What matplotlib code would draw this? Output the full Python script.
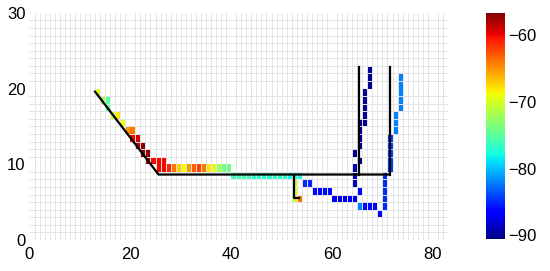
import numpy as np
import matplotlib.pyplot as plt

plt.rcParams['font.family'] = ['Liberation Sans', 'DejaVu Sans']

# measured cells: column, row, received signal strength (dBm)
cell_col = [13, 14, 15, 15, 16, 17, 18, 19, 20, 20, 21, 21, 22, 22, 23, 23, 24, 25, 26,
            25, 26, 27, 28, 29, 30, 31, 32, 33, 34, 35, 36, 37, 38, 39,
            40, 41, 42, 43, 44, 45, 46, 47, 48, 49, 50, 51, 52, 53,
            52, 52, 52, 53,
            54, 55, 56, 57, 58, 59, 60, 61, 62, 63, 64,
            65, 66, 67, 68, 69,
            70, 70, 70, 70, 70, 71, 71, 71, 71, 71, 72, 72, 72,
            73, 73, 73, 73, 73,
            64, 64, 64, 65, 65, 64, 65, 65, 65, 65,
            66, 66, 66, 66, 66, 67, 67, 67]
cell_row = [19, 18, 18, 17, 16, 16, 15, 14, 14, 13, 13, 12, 12, 11, 11, 10, 10, 10, 10,
            9, 9, 9, 9, 9, 9, 9, 9, 9, 9, 9, 9, 9, 9, 9,
            8, 8, 8, 8, 8, 8, 8, 8, 8, 8, 8, 8, 8, 8,
            7, 6, 5, 5,
            7, 7, 6, 6, 6, 6, 5, 5, 5, 5, 5,
            4, 4, 4, 4, 3,
            4, 5, 6, 7, 8, 9, 10, 11, 12, 13, 14, 15, 16,
            17, 18, 19, 20, 21,
            7, 8, 9, 6, 10, 11, 12, 13, 14, 15,
            15, 16, 17, 18, 19, 20, 21, 22]
cell_rss = [-70, -72, -75, -75, -70, -68, -69, -65, -64, -60, -59, -58, -57, -57, -57, -57, -60, -60, -60,
            -60, -60, -61, -64, -67, -69, -65, -63, -62, -64, -68, -70, -72, -74, -74,
            -76, -76, -76, -76, -77, -77, -77, -77, -77, -77, -77, -78, -77, -77,
            -70, -70, -70, -64,
            -85, -85, -86, -86, -86, -86, -87, -87, -87, -87, -87,
            -82, -86, -86, -86, -86,
            -85, -85, -85, -85, -85, -84, -84, -84, -84, -84, -82, -82, -82,
            -82, -82, -82, -82, -82,
            -89, -89, -89, -87, -90, -90, -90, -90, -90, -90,
            -90, -90, -90, -90, -90, -90, -90, -90]

# walked path (black lines)
main_x = [13.0, 25.6, 71.45]
main_y = [19.6, 8.65, 8.65]
left_x = [65.45, 65.45]
left_y = [8.65, 22.8]
right_x = [71.45, 71.45]
right_y = [8.65, 22.8]
branch_x = [52.5, 52.5, 53.4]
branch_y = [8.65, 5.6, 5.6]

n_cols, n_rows = 83, 30
vmin, vmax = -90.6, -56.6

grid = np.full((n_rows, n_cols), np.nan)
grid[cell_row, cell_col] = cell_rss
grid = np.ma.masked_invalid(grid)

fig = plt.figure(figsize=(5.5, 2.71), dpi=100)
ax = fig.add_axes([0.0536, 0.1144, 0.7609, 0.838])

mesh = ax.pcolormesh(np.arange(n_cols + 1), np.arange(n_rows + 1), grid,
                     cmap='jet', vmin=vmin, vmax=vmax, zorder=1)

for xs, ys in [(main_x, main_y), (left_x, left_y), (right_x, right_y), (branch_x, branch_y)]:
    ax.plot(xs, ys, color='black', linewidth=1.6, zorder=3)

ax.set_xlim(0, n_cols)
ax.set_ylim(0, n_rows)
ax.set_xticks([0, 20, 40, 60, 80])
ax.set_yticks([0, 10, 20, 30])
ax.set_xticks(np.arange(0, n_cols + 1), minor=True)
ax.set_yticks(np.arange(0, n_rows + 1), minor=True)
ax.grid(which='minor', color='#e4e4e4', linewidth=0.7, zorder=2)
ax.set_axisbelow(False)
ax.tick_params(which='both', length=0, labelsize=12)
ax.tick_params(axis='x', pad=5)
ax.tick_params(axis='y', pad=3)
for s in ax.spines.values():
    s.set_visible(False)

cax = fig.add_axes([0.8836, 0.117, 0.0345, 0.836])
cb = fig.colorbar(mesh, cax=cax)
cb.set_ticks([-90, -80, -70, -60])
cb.outline.set_visible(False)
cax.tick_params(length=0, labelsize=12, pad=2)

fig.savefig('out.png', dpi=100)
